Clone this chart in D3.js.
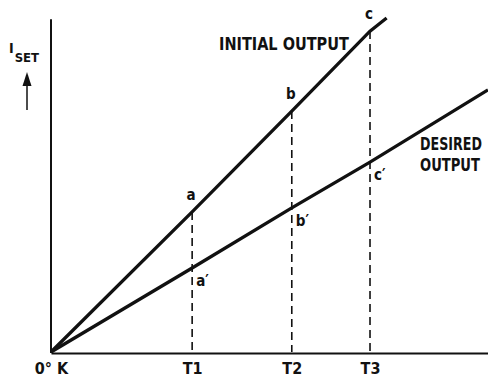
<!DOCTYPE html>
<html lang="en">
<head>
    <meta charset="UTF-8">
    <title>Iset vs temperature</title>
    <script src="https://d3js.org/d3.v7.min.js"></script>
    <style>
        body { margin: 0; background: #fff; }
        text {
            font-family: "Liberation Sans Narrow", "DejaVu Sans Condensed", "Liberation Sans", sans-serif;
            font-weight: bold;
            fill: #111;
        }
    </style>
</head>
<body>
    <div class="canvas"></div>
    <script>
      // temperature positions (0..100 = full width of x axis)
      const tempLabels = ['0° K', 'T1', 'T2', 'T3'];
      const tempValues = [0, 32.3, 55.1, 73.0];
      // I_SET read at 0, T1, T2, T3 and where the line leaves the picture
      const initialX = [0, 32.3, 55.1, 73.0, 76.8];
      const initialY = [0, 41.7, 71.7, 95.5, 99.4];
      const desiredX = [0, 32.3, 55.1, 73.0, 100];
      const desiredY = [0, 25.0, 42.9, 56.5, 78.0];
      const pointNames = ['a', 'b', 'c'];
      const primeNames = ["a\u2032", "b\u2032", "c\u2032"];
      const yAxisTop = 99;

      const width = 488;
      const height = 377;

      const svg = d3.select('.canvas')
                      .append('svg')
                      .attr('width', width)
                      .attr('height', height);

      const x = d3.scaleLinear().domain([0, 100]).range([51, 488]);
      const y = d3.scaleLinear().domain([0, 100]).range([352, 16]);

      const initial = initialX.map((v, i) => [v, initialY[i]]);
      const desired = desiredX.map((v, i) => [v, desiredY[i]]);

      const line = d3.line()
                      .x(d => x(d[0]))
                      .y(d => y(d[1]));

      // dashed drop lines from the initial curve
      svg.selectAll('line.drop')
          .data(tempValues.slice(1))
          .enter()
          .append('line')
          .attr('class', 'drop')
          .attr('x1', d => x(d))
          .attr('x2', d => x(d))
          .attr('y1', (d, i) => y(initialY[i + 1]))
          .attr('y2', y(0))
          .attr('stroke', '#111')
          .attr('stroke-width', 1.6)
          .attr('stroke-dasharray', '8,5');

      // y axis line
      svg.append('line')
          .attr('x1', x(0)).attr('x2', x(0))
          .attr('y1', y(0) + 1).attr('y2', y(yAxisTop))
          .attr('stroke', '#111')
          .attr('stroke-width', 2);

      // x axis with the temperature labels
      const xAxis = d3.axisBottom(x)
                        .tickValues(tempValues)
                        .tickFormat((d, i) => tempLabels[i])
                        .tickSize(0)
                        .tickPadding(10);

      const xAxisG = svg.append('g')
                          .attr('transform', `translate(0, ${y(0) + 1})`)
                          .call(xAxis);
      xAxisG.select('.domain').attr('stroke', '#111').attr('stroke-width', 2.2);
      xAxisG.selectAll('text')
          .attr('font-size', 16)
          .attr('font-family', null)
          .attr('fill', '#111');

      svg.append('path')
          .attr('d', line(initial))
          .attr('fill', 'none')
          .attr('stroke', '#111')
          .attr('stroke-width', 3.3);

      svg.append('path')
          .attr('d', line(desired))
          .attr('fill', 'none')
          .attr('stroke', '#111')
          .attr('stroke-width', 3.3);

      // point labels
      svg.selectAll('text.pt')
          .data(pointNames)
          .enter()
          .append('text')
          .attr('class', 'pt')
          .attr('x', (d, i) => x(tempValues[i + 1]) - 1)
          .attr('y', (d, i) => y(initialY[i + 1]) - 12)
          .attr('text-anchor', 'middle')
          .attr('font-size', 15)
          .text(d => d);

      svg.selectAll('text.pr')
          .data(primeNames)
          .enter()
          .append('text')
          .attr('class', 'pr')
          .attr('x', (d, i) => x(tempValues[i + 1]) + 4)
          .attr('y', (d, i) => y(desiredY[i + 1]) + 18)
          .attr('font-size', 15)
          .text(d => d);

      // condensed caption: squeeze text horizontally to a given width
      function caption(tx, ty, w, str) {
        const t = svg.append('text')
                      .attr('font-size', 17)
                      .text(str);
        const k = w / t.node().getComputedTextLength();
        t.attr('transform', `translate(${tx}, ${ty}) scale(${k}, 1)`);
      }

      caption(219, 50, 130, 'INITIAL OUTPUT');
      caption(420, 150, 62, 'DESIRED');
      caption(420, 171, 60, 'OUTPUT');

      // I_SET label and arrow
      const yLab = svg.append('text')
                        .attr('x', 9).attr('y', 53)
                        .attr('font-size', 14);
      yLab.append('tspan').text('I');
      yLab.append('tspan').attr('dy', 9).attr('dx', 1).attr('font-size', 13).text('SET');

      svg.append('line')
          .attr('x1', 27).attr('x2', 27)
          .attr('y1', 110).attr('y2', 82)
          .attr('stroke', '#111')
          .attr('stroke-width', 1.5);
      svg.append('path')
          .attr('d', 'M27,72 L22.5,86 L31.5,86 Z')
          .attr('fill', '#111');
    </script>
</body>
</html>
